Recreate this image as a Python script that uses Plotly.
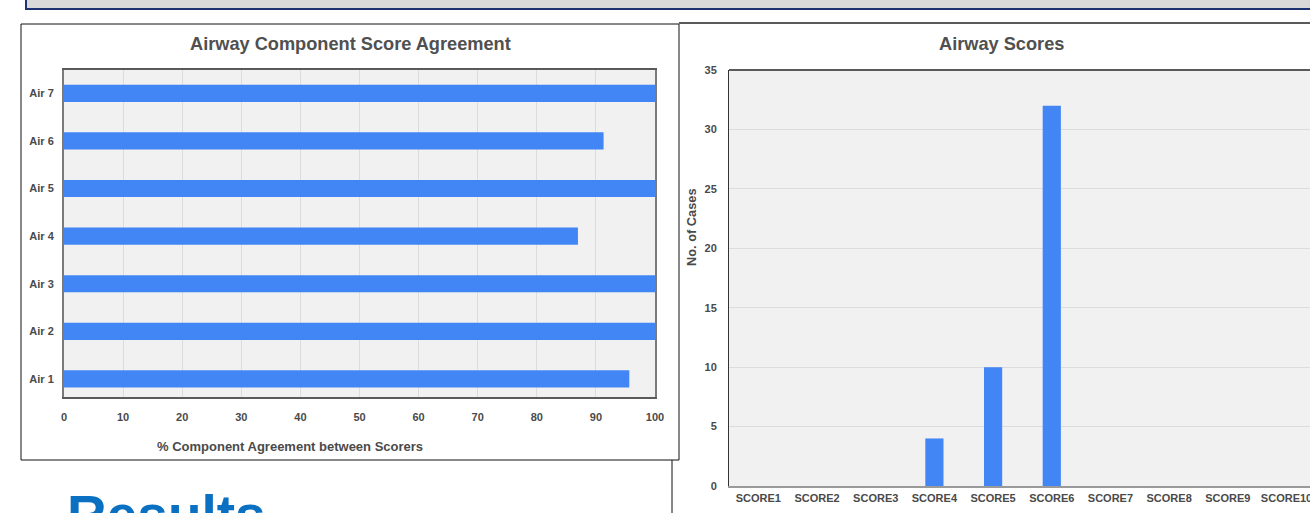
import plotly.graph_objects as go

# ---- data ----
air_components = ["Air 1", "Air 2", "Air 3", "Air 4", "Air 5", "Air 6", "Air 7"]
agreement_pct = [95.65, 100, 100, 86.96, 100, 91.3, 100]

score_categories = ["SCORE1", "SCORE2", "SCORE3", "SCORE4", "SCORE5",
                    "SCORE6", "SCORE7", "SCORE8", "SCORE9", "SCORE10"]
case_counts = [0, 0, 0, 4, 10, 32, 0, 0, 0, 0]

agree_ticks = [0, 10, 20, 30, 40, 50, 60, 70, 80, 90, 100]
case_ticks = [0, 5, 10, 15, 20, 25, 30, 35]

W, H = 1310, 513
def px(x):
    return x / W
def py(y):
    return 1 - y / H

FONT = "Liberation Sans, Arial, sans-serif"
BLUE = "#4285f4"
TXT = "#4a4a4a"

fig = go.Figure()

fig.add_trace(go.Bar(
    y=list(range(len(air_components))), x=agreement_pct, orientation="h",
    marker=dict(color=BLUE, line=dict(width=0)),
    width=0.36, xaxis="x", yaxis="y", showlegend=False,
))
fig.add_trace(go.Bar(
    x=list(range(len(score_categories))), y=case_counts,
    marker=dict(color=BLUE, line=dict(width=0)),
    width=0.31, xaxis="x2", yaxis="y2", showlegend=False,
))

tickfont = dict(family=FONT, size=11, color=TXT, weight="bold")

fig.update_layout(
    template="none",
    width=W, height=H, autosize=False,
    margin=dict(l=0, r=0, t=0, b=0, pad=0, autoexpand=False),
    paper_bgcolor="white", plot_bgcolor="#f1f1f1",
    xaxis=dict(domain=[px(64), px(655)], range=[0, 100], tickvals=agree_ticks,
               showgrid=True, gridcolor="#dcdcdc", gridwidth=1, zeroline=False,
               showline=True, linecolor="#5a5a5a", linewidth=2, mirror=True,
               ticks="outside", ticklen=9, tickcolor="rgba(0,0,0,0)",
               tickfont=tickfont, fixedrange=True, automargin=False),
    yaxis=dict(domain=[py(397), py(70)], range=[-0.38, 6.49],
               tickvals=list(range(len(air_components))), ticktext=air_components,
               showgrid=False, zeroline=False,
               showline=True, linecolor="#7a7a7a", linewidth=2, mirror=True,
               ticks="outside", ticklen=6, tickcolor="rgba(0,0,0,0)",
               tickfont=tickfont, anchor="x", automargin=False),
    xaxis2=dict(domain=[px(729), 1.0], range=[-0.5, 9.4],
                tickvals=list(range(len(score_categories))), ticktext=score_categories,
                showgrid=False, zeroline=False,
                showline=True, linecolor="#9a9a9a", linewidth=2,
                ticks="outside", ticklen=1, tickcolor="rgba(0,0,0,0)",
                tickfont=tickfont, anchor="y2", automargin=False,
                ticklabeloverflow="allow"),
    yaxis2=dict(domain=[py(486), py(70)], range=[0, 35], tickvals=case_ticks,
                showgrid=True, gridcolor="#dcdcdc", gridwidth=1, zeroline=False,
                showline=True, linecolor="#333333", linewidth=1,
                ticks="outside", ticklen=9, tickcolor="rgba(0,0,0,0)",
                tickfont=tickfont, anchor="x2", automargin=False),
    bargap=0.6,
)

shapes = [
    # top banner
    dict(type="rect", xref="paper", yref="paper", x0=px(26), x1=px(1330),
         y0=py(9), y1=py(-10), fillcolor="#d9d9d9",
         line=dict(color="#1c3370", width=2), layer="below"),
    # left panel border
    dict(type="rect", xref="paper", yref="paper", x0=px(21), x1=px(679),
         y0=py(460), y1=py(24), line=dict(color="#111111", width=1), layer="below"),
    # vertical line under left panel
    dict(type="line", xref="paper", yref="paper", x0=px(672), x1=px(672),
         y0=py(460), y1=py(520), line=dict(color="#111111", width=1)),
    # right panel top border
    dict(type="line", xref="paper", yref="paper", x0=px(679), x1=px(1320),
         y0=py(23), y1=py(23), line=dict(color="#5a5a5a", width=2)),
    # right plot area top border
    dict(type="line", xref="paper", yref="paper", x0=px(729), x1=px(1320),
         y0=py(70), y1=py(70), line=dict(color="#5a5a5a", width=2)),
]
fig.update_layout(shapes=shapes)

ann = [
    dict(text="Airway Component Score Agreement", x=px(350), y=py(44),
         font=dict(family=FONT, size=18.2, color="#505050", weight="bold")),
    dict(text="Airway Scores", x=px(1001), y=py(44),
         font=dict(family=FONT, size=18.2, color="#505050", weight="bold")),
    dict(text="% Component Agreement between Scorers", x=px(290), y=py(446),
         font=dict(family=FONT, size=13, color=TXT, weight="bold")),
    dict(text="No. of Cases", x=px(692), y=py(227), textangle=-90,
         font=dict(family=FONT, size=12.8, color=TXT, weight="bold")),
]
for a in ann:
    a.update(xref="paper", yref="paper", showarrow=False,
             xanchor="center", yanchor="middle")
fig.update_layout(annotations=ann)

fig.add_annotation(text="Results", xref="paper", yref="paper",
                   x=px(65), y=py(482), xanchor="left", yanchor="top",
                   showarrow=False,
                   font=dict(family=FONT, size=55, color="#0a70c2", weight="bold"))

fig.write_html("out.html", config={"displayModeBar": False})
